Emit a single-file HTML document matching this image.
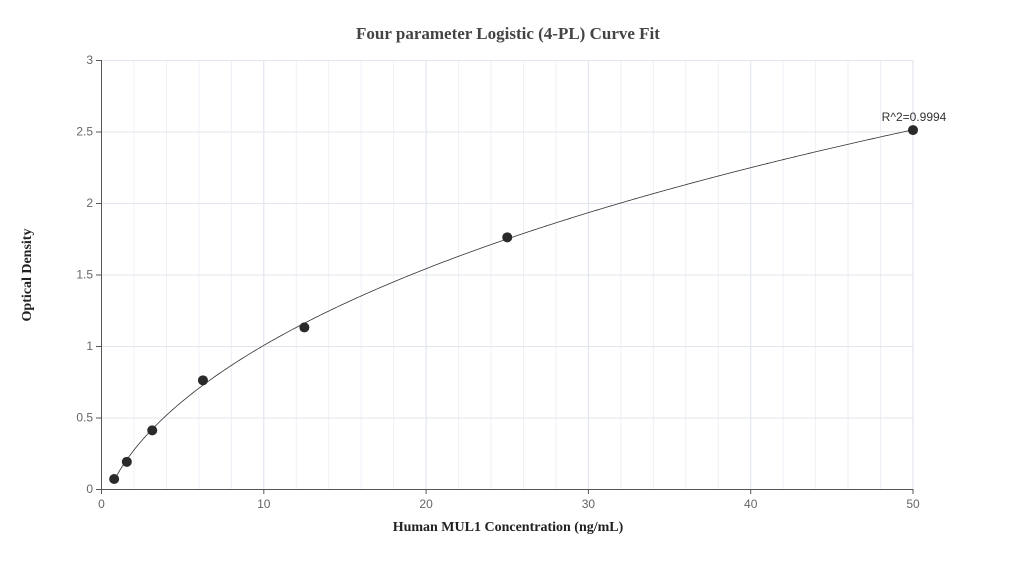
<!DOCTYPE html>
<html><head><meta charset="utf-8"><style>
body{margin:0;background:#fff;width:1015px;height:560px;overflow:hidden}
svg text{font-family:"Liberation Sans",sans-serif}
</style></head><body>
<svg id="s" width="1015" height="560" xmlns="http://www.w3.org/2000/svg">
<text x="508" y="39" text-anchor="middle" font-weight="bold" font-size="17" fill="#444" style="font-family:'Liberation Serif',serif">Four parameter Logistic (4-PL) Curve Fit</text>
<g id="grid"></g>
<line x1="101.5" y1="60" x2="101.5" y2="489" stroke="#555"/>
<line x1="101" y1="489.5" x2="913" y2="489.5" stroke="#555"/>
<g id="ticks" font-size="12" fill="#666"></g>
<path id="curve" fill="none" stroke="#333" stroke-width="0.8"/>
<g id="pts" fill="#2a2a2a"></g>
<text x="914" y="121" text-anchor="middle" font-size="12" fill="#333">R^2=0.9994</text>
<text x="508" y="531" text-anchor="middle" font-weight="bold" font-size="14" fill="#222" style="font-family:'Liberation Serif',serif">Human MUL1 Concentration (ng/mL)</text>
<text transform="translate(31,275) rotate(-90)" text-anchor="middle" font-weight="bold" font-size="14" fill="#222" style="font-family:'Liberation Serif',serif">Optical Density</text>
</svg>
<script>
var ns="http://www.w3.org/2000/svg";
function X(v){return 101.5+16.23*v}function Y(v){return 489-143*v}
function el(t,a,p){var e=document.createElementNS(ns,t);for(var k in a)e.setAttribute(k,a[k]);document.getElementById(p).appendChild(e);return e}
for(var i=2;i<=50;i+=2){el('line',{x1:X(i),x2:X(i),y1:60,y2:489,stroke:i%10==0?'#dde2ee':'#eef0f7'},'grid')}
for(var j=0.5;j<=3;j+=0.5){el('line',{x1:101,x2:913,y1:Y(j)+.5,y2:Y(j)+.5,stroke:'#e2e5ee'},'grid')}
for(var i=0;i<=50;i+=10){el('line',{x1:X(i),x2:X(i),y1:489,y2:494,stroke:'#555'},'ticks');var t=el('text',{x:X(i),y:508,'text-anchor':'middle'},'ticks');t.textContent=i}
for(var j=0;j<=3;j+=0.5){el('line',{x1:96,x2:101,y1:Y(j)+.5,y2:Y(j)+.5,stroke:'#555'},'ticks');var t=el('text',{x:93,y:Y(j)+4,'text-anchor':'end'},'ticks');t.textContent=j}
var P=[[0.78,0.07],[1.56,0.19],[3.125,0.41],[6.25,0.76],[12.5,1.13],[25,1.76],[50,2.51]];
// fit 4PL: y = a + k*f, f = x^b/(c^b+x^b)
var best=null;
for(var b=0.4;b<=2;b+=0.01){for(var lc=0;lc<=6;lc+=0.02){var c=Math.exp(lc);
var n=P.length,sf=0,sy=0,sff=0,sfy=0;
P.forEach(function(p){var f=Math.pow(p[0],b)/(Math.pow(c,b)+Math.pow(p[0],b));sf+=f;sy+=p[1];sff+=f*f;sfy+=f*p[1]});
var det=n*sff-sf*sf;if(Math.abs(det)<1e-12)continue;
var k=(n*sfy-sf*sy)/det,a=(sy-k*sf)/n,e=0;
P.forEach(function(p){var f=Math.pow(p[0],b)/(Math.pow(c,b)+Math.pow(p[0],b));var r=a+k*f-p[1];e+=r*r});
if(!best||e<best.e)best={e:e,a:a,k:k,b:b,c:c};}}
var d='';
for(var x=0.78;x<=50.001;x+=0.1){var f=Math.pow(x,best.b)/(Math.pow(best.c,best.b)+Math.pow(x,best.b));var y=best.a+best.k*f;d+=(d?' L':'M')+X(x).toFixed(2)+','+Y(y).toFixed(2)}
document.getElementById('curve').setAttribute('d',d);
P.forEach(function(p){el('circle',{cx:X(p[0]),cy:Y(p[1]),r:5},'pts')});
</script>
</body></html>
